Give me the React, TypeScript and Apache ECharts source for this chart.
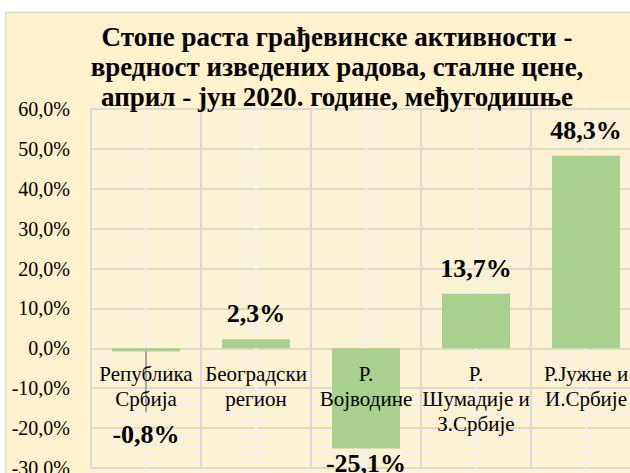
import React, { useEffect, useRef } from "react";
import * as echarts from "echarts";

const titleLines = [
  "Стопе раста грађевинске активности -",
  "вредност изведених радова, сталне цене,",
  "април - јун 2020. године, међугодишње",
];
const categories = [
  "Република\nСрбија",
  "Београдски\nрегион",
  "Р.\nВојводине",
  "Р.\nШумадије и\nЗ.Србије",
  "Р.Јужне и\nИ.Србије",
];
const values = [-0.8, 2.3, -25.1, 13.7, 48.3];
const yTicks = { min: -30, max: 60, interval: 10 };
// label placement per bar (Excel-moved labels)
const labelPlacement = [
  { position: "bottom", distance: 70 },
  { position: "top", distance: 13 },
  { position: "bottom", distance: 2 },
  { position: "top", distance: 12 },
  { position: "top", distance: 12 },
];
const leaderLineEnd = -16;

const FONT = "Times New Roman, Liberation Serif, DejaVu Serif, serif";
const BG = "#FFF2CC";
const MINOR = "#F0F0F0";
const MAJOR = "#D9D9D9";

export default function App() {
  const ref = useRef<HTMLDivElement>(null);
  useEffect(() => {
    if (!ref.current) return;
    const chart = echarts.init(ref.current, null, { renderer: "svg" });
    const fmt = (v: number) => v.toFixed(1).replace(".", ",") + "%";
    chart.setOption({
      animation: false,
      backgroundColor: "#ffffff",
      textStyle: { fontFamily: FONT },
      graphic: [
        {
          type: "rect",
          z: -10,
          silent: true,
          shape: { x: 5.5, y: 12.5, width: 700, height: 500 },
          style: { fill: BG, stroke: MAJOR, lineWidth: 1.5 },
        },
      ],
      title: {
        text: titleLines.join("\n"),
        left: 332,
        top: 17,
        textAlign: "center",
        textStyle: {
          fontFamily: FONT,
          fontWeight: "bold",
          fontSize: 27,
          lineHeight: 30,
          color: "#000",
        },
      },
      grid: {
        left: 91,
        top: 109,
        right: -11,
        bottom: 5,
        show: true,
        backgroundColor: BG,
        borderWidth: 0,
        containLabel: false,
        outerBoundsMode: "none",
      },
      xAxis: {
        type: "category",
        data: categories,
        z: 6,
        axisLine: { show: false, onZero: true },
        axisTick: { show: false },
        splitLine: { show: true, lineStyle: { color: MAJOR, width: 2 } },
        axisLabel: {
          interval: 0,
          margin: -107,
          fontFamily: FONT,
          fontSize: 21,
          lineHeight: 25,
          color: "#000",
        },
      },
      yAxis: {
        type: "value",
        min: yTicks.min,
        max: yTicks.max,
        interval: yTicks.interval,
        axisLine: { show: false },
        axisTick: { show: false },
        axisLabel: {
          formatter: fmt,
          fontFamily: FONT,
          fontSize: 20,
          color: "#000",
          margin: 21,
        },
        splitLine: { show: true, lineStyle: { color: MAJOR, width: 2 } },
        minorTick: { show: false, splitNumber: 5 },
        minorSplitLine: { show: true, lineStyle: { color: MINOR, width: 2 } },
      },
      series: [
        {
          type: "bar",
          barWidth: 68,
          z: 3,
          data: values.map((v, i) => ({
            value: v,
            label: {
              show: true,
              position: labelPlacement[i].position,
              distance: labelPlacement[i].distance,
              formatter: () => fmt(v),
              fontFamily: FONT,
              fontWeight: "bold",
              fontSize: 26,
              color: "#000",
            },
          })),
          itemStyle: { color: "#A9D18E" },
          markLine: {
            silent: true,
            symbol: ["none", "none"],
            z: 1,
            label: { show: false },
            data: [
              ...categories.map((_c, i) => [
                { coord: [i, yTicks.max], lineStyle: { color: MINOR, width: 2, type: "solid" } },
                { coord: [i, yTicks.min] },
              ]),
              [
                { coord: [0, 0], lineStyle: { color: "#A6A6A6", width: 2, type: "solid" } },
                { coord: [0, leaderLineEnd] },
              ],
            ],
          },
        },
      ],
    });
    return () => chart.dispose();
  }, []);
  return (
    <div
      ref={ref}
      style={{ position: "fixed", left: 0, top: 0, width: 630, height: 473 }}
    />
  );
}
